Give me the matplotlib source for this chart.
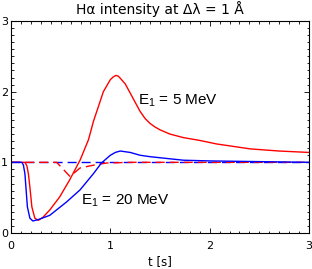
import matplotlib
matplotlib.use("Agg")
import matplotlib.pyplot as plt
from matplotlib.ticker import MultipleLocator

plt.rcParams['lines.scale_dashes'] = False
plt.rcParams['mathtext.fontset'] = 'custom'
plt.rcParams['mathtext.rm'] = 'Liberation Sans'
plt.rcParams['mathtext.it'] = 'Liberation Sans'

# --- data ---
t_red = [0, 0.14, 0.16, 0.175, 0.19, 0.21, 0.24, 0.275, 0.32, 0.39, 0.49, 0.59,
         0.695, 0.78, 0.83, 0.93, 1.0, 1.03, 1.057, 1.08, 1.10, 1.15, 1.2, 1.25,
         1.3, 1.35, 1.4, 1.45, 1.5, 1.6, 1.735, 1.9, 2.07, 2.41, 2.7, 3.0]
v_red = [1, 1, 0.95, 0.84, 0.65, 0.37, 0.21, 0.18, 0.22, 0.325, 0.51, 0.75,
         1.03, 1.32, 1.58, 2.0, 2.17, 2.21, 2.23, 2.22, 2.19, 2.11, 1.98, 1.85,
         1.72, 1.62, 1.55, 1.50, 1.46, 1.40, 1.35, 1.31, 1.26, 1.19, 1.16, 1.14]

t_blue = [0, 0.11, 0.125, 0.14, 0.165, 0.19, 0.22, 0.275, 0.39, 0.56, 0.695,
          0.83, 0.91, 1.0, 1.05, 1.10, 1.2, 1.3, 1.4, 1.6, 1.735, 2.0, 2.5, 3.0]
v_blue = [1, 1, 0.96, 0.84, 0.37, 0.21, 0.17, 0.19, 0.25, 0.44, 0.61,
          0.84, 0.99, 1.10, 1.14, 1.16, 1.14, 1.10, 1.08, 1.05, 1.03, 1.02, 1.01, 1.0]

t_red_d = [0, 0.46, 0.594, 0.695, 0.83, 0.96, 1.2, 3.0]
v_red_d = [1, 1, 0.80, 0.92, 0.96, 0.99, 1.0, 1.0]

t_blue_d = [0, 3.0]
v_blue_d = [1, 1]

x_ticks = [0, 1, 2, 3]
y_ticks = [0, 1, 2, 3]

title = "H\u03b1 intensity at \u0394\u03bb = 1 \u00c5"
xlabel = "t [s]"
label_5 = "E$_1$ = 5 MeV"
label_20 = "E$_1$ = 20 MeV"

fig = plt.figure(figsize=(3.12, 2.69), dpi=100)
ax = fig.add_axes([11/312, 1 - 233/269, 298/312, 212/269])

ax.plot(t_blue_d, v_blue_d, color='blue', lw=1.0, dashes=(6.5, 3.6))
ax.plot(t_red_d, v_red_d, color='red', lw=1.0, dashes=(6.5, 3.6))
ax.plot(t_red, v_red, color='red', lw=1.0)
ax.plot(t_blue, v_blue, color='blue', lw=1.0)

ax.set_xlim(0, 3)
ax.set_ylim(0, 3)
ax.set_xticks(x_ticks)
ax.set_yticks(y_ticks)
ax.xaxis.set_minor_locator(MultipleLocator(0.1))
ax.yaxis.set_minor_locator(MultipleLocator(0.1))
ax.tick_params(which='both', direction='in', top=True, right=True,
               width=0.6, colors='black')
ax.tick_params(which='major', length=3.6, labelsize=8)
ax.tick_params(which='minor', length=1.8)
ax.tick_params(axis='x', pad=6)
ax.tick_params(axis='y', pad=2)
for sp in ax.spines.values():
    sp.set_linewidth(0.8)

ax.set_title(title, fontsize=10, pad=5)
ax.set_xlabel(xlabel, fontsize=8.5, labelpad=3)

ax.text(1.28, 1.81, label_5, fontsize=11, family='Liberation Sans')
ax.text(0.70, 0.40, label_20, fontsize=11, family='Liberation Sans')

fig.savefig("out.png", dpi=100)
